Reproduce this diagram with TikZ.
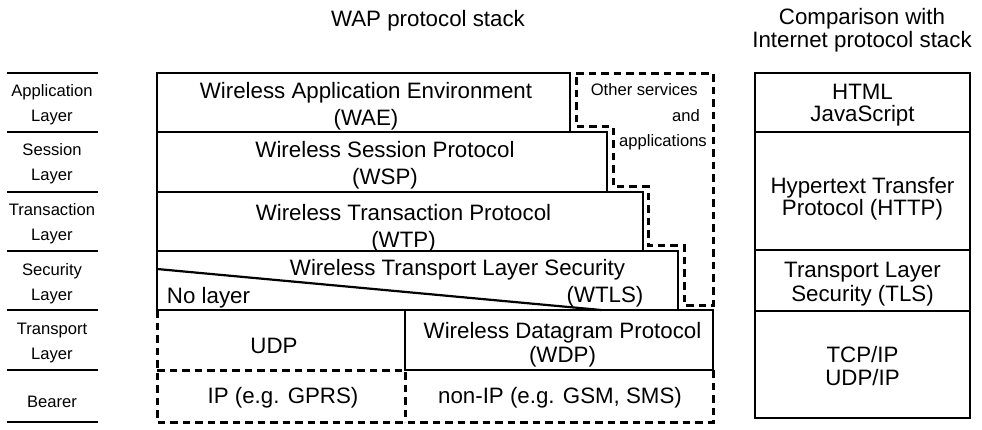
\documentclass[tikz,border=0pt]{standalone}
\usepackage{fontspec}
\setmainfont{Liberation Sans}
\begin{document}
\begin{tikzpicture}[x=1pt,y=-1pt]
\tikzset{
  solid box/.style={line width=2.8pt},
  dash box/.style={line width=3pt,dash pattern=on 7.5pt off 5pt},
  layerline/.style={line width=2.8pt},
  big/.style={font=\fontsize{22.3}{23.5}\selectfont,align=center,inner sep=0pt},
  small/.style={font=\fontsize{16.6}{25}\selectfont,align=center,inner sep=0pt}
}
\useasboundingbox (0,0) rectangle (982,430);
\def\xL{157};
\def\xM{405};
\def\xR{713};
% layer names on the left
\foreach \y in {73,132,192,251,310,370,422} \draw[layerline] (7,\y) -- (98,\y);
\foreach \n/\y/\t in {app/105/Application,ses/163.3/Session,tra/223.3/Transaction,sec/283.3/Security,tsp/343.3/Transport}
  \node[small] (\n) at (52,\y) {\t\\Layer};
\node[small,anchor=base] (bea) at (52,407) {Bearer};
% titles
\node[big,anchor=base] (wap) at (428,26.7) {WAP protocol stack};
\node[big] (cmp) at (862,30.3) {Comparison with\\Internet protocol stack};
% WAP stack
\draw[solid box] (\xL,73) rectangle (570,132);
\draw[solid box] (\xL,132) rectangle (607,192);
\draw[solid box] (\xL,192) rectangle (643,251);
\draw[solid box] (\xL,251) rectangle (678,310);
\draw[solid box] (\xM,310) rectangle (\xR,370);
\draw[line width=2.2pt] (\xL,269) -- (601,310);
\node[big] (wae) at (366,106.2) {Wireless Application Environment\\[3.5pt](WAE)};
\node[big] (wsp) at (385,165.4) {Wireless Session Protocol\\[3.5pt](WSP)};
\node[big] (wtp) at (403.5,228) {Wireless Transaction Protocol\\[3.5pt](WTP)};
\node[big,anchor=base] (wtls) at (457.5,276) {Wireless Transport Layer Security};
\node[big,anchor=base] (wtlsab) at (605,302) {(WTLS)};
\node[big,anchor=base] (nolay) at (208.5,303) {No layer};
\node[big] (wdp) at (562.5,344.4) {Wireless Datagram Protocol\\[0.5pt](WDP)};
% bearers and other services
\draw[dash box] (\xL,310) -- (\xL,422) -- (\xR,422) -- (\xR,370);
\draw[dash box] (\xL,370) -- (\xM,370) -- (\xM,422);
\draw[dash box] (576,74) -- (\xR,74) -- (\xR,305) -- (684,305) -- (684,246) -- (648,246)
  -- (648,187) -- (613,187) -- (613,127) -- (576,127) -- cycle;
\node[big,anchor=base] (udp) at (274,353) {UDP};
\node[big,anchor=base] (ipb) at (283,403) {IP (e.g. GPRS)};
\node[big,anchor=base] (nip) at (560,403) {non-IP (e.g. GSM, SMS)};
\node[small,anchor=base east] (oth) at (698,96) {Other services};
\node[small,anchor=base east] (oand) at (700,121.7) {and};
\node[small,anchor=base east] (oapp) at (707,147) {applications};
% internet stack
\foreach \ya/\yb in {73/132,132/250,250/311,311/418} \draw[solid box] (755,\ya) rectangle (970,\yb);
\node[big] (html) at (862.5,105.4) {HTML\\[-1.5pt]JavaScript};
\node[big] (http) at (862.5,198.4) {Hypertext Transfer\\[-1.5pt]Protocol (HTTP)};
\node[big] (tls) at (862.5,284.4) {Transport Layer\\[0.5pt]Security (TLS)};
\node[big] (tcp) at (862.5,365.8) {TCP/IP\\[-0.5pt]UDP/IP};
\end{tikzpicture}
\end{document}
